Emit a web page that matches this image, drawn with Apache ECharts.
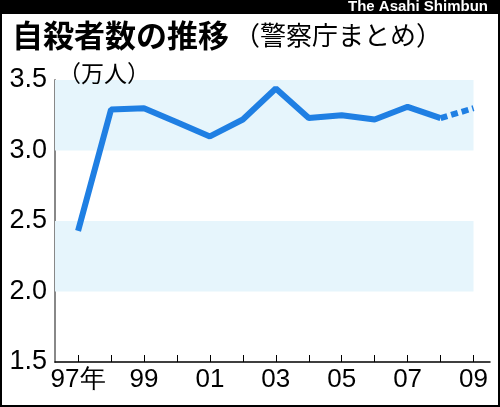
<!DOCTYPE html><html><head><meta charset="utf-8"><script src="https://cdn.jsdelivr.net/npm/echarts@6/dist/echarts.min.js"></script>
<style>body{margin:0}#c{width:500px;height:407px}</style></head><body><div id="c"></div><script>
const years=[97,98,99,100,101,102,103,104,105,106,107,108];
const values=[2.43,3.29,3.30,3.20,3.10,3.22,3.44,3.23,3.25,3.22,3.31,3.23];
const projYears=[108,109];
const projValues=[3.23,3.30];
const xTicks=[97,98,99,100,101,102,103,104,105,106,107,108,109];
const xLabelYears=[97,99,101,103,105,107,109];
const xLabels=['97年','99','01','03','05','07','09'];
const yTicks=[1.5,2.0,2.5,3.0,3.5];
const blue='#1f7fe3';
const c=echarts.init(document.getElementById('c'));
c.setOption({animation:false,backgroundColor:'#fff',
graphic:[
{type:'rect',z:100,shape:{x:0,y:0,width:500,height:14},style:{fill:'#000'}},
{type:'rect',z:100,shape:{x:1,y:1,width:498,height:405},style:{fill:'none',stroke:'#000',lineWidth:2}},
{type:'text',z:101,right:12,top:-1,style:{text:'The Asahi Shimbun',fill:'#fff',font:'bold 15px "Liberation Sans",Arial'}},
{type:'text',z:100,left:12,top:20,style:{text:'自殺者数の推移',fill:'#000',font:'bold 31px "Noto Sans CJK JP"'}},
{type:'text',z:100,left:234,top:22,style:{text:'（警察庁まとめ）',fill:'#000',font:'26px "Noto Sans CJK JP"'}},
{type:'text',z:100,left:58,top:62,style:{text:'（万人）',fill:'#000',font:'23px "Noto Sans CJK JP"'}}
],
grid:{left:55,right:10,top:80,bottom:45},
xAxis:{type:'value',min:96.3,max:109.5,axisLine:{lineStyle:{color:'#000',width:1.5}},
 axisTick:{customValues:xTicks,length:7,inside:true,lineStyle:{color:'#000'}},
 axisLabel:{customValues:xLabelYears,formatter:v=>xLabels[xLabelYears.indexOf(Math.round(v))],color:'#000',fontSize:26,fontFamily:'"Liberation Sans Narrow","Liberation Sans"',margin:5},
 splitLine:{show:false}},
yAxis:{type:'value',min:1.5,max:3.5,axisLine:{show:true,lineStyle:{color:'#888',width:2}},axisTick:{show:false},
 axisLabel:{customValues:yTicks,formatter:v=>v.toFixed(1),color:'#000',fontSize:27,fontFamily:'"Liberation Sans Narrow","Liberation Sans"',margin:8},
 splitLine:{show:false}},
series:[
{type:'line',data:years.map((y,i)=>[y,values[i]]),symbol:'none',lineStyle:{color:blue,width:6},
 markArea:{silent:true,itemStyle:{color:'#e6f5fc'},data:[[{xAxis:96.3,yAxis:3.0},{xAxis:109,yAxis:3.5}],[{xAxis:96.3,yAxis:2.0},{xAxis:109,yAxis:2.5}]]}},
{type:'line',data:projYears.map((y,i)=>[y,projValues[i]]),symbol:'none',lineStyle:{color:blue,width:6,type:[7,4]}}
]});
</script></body></html>
